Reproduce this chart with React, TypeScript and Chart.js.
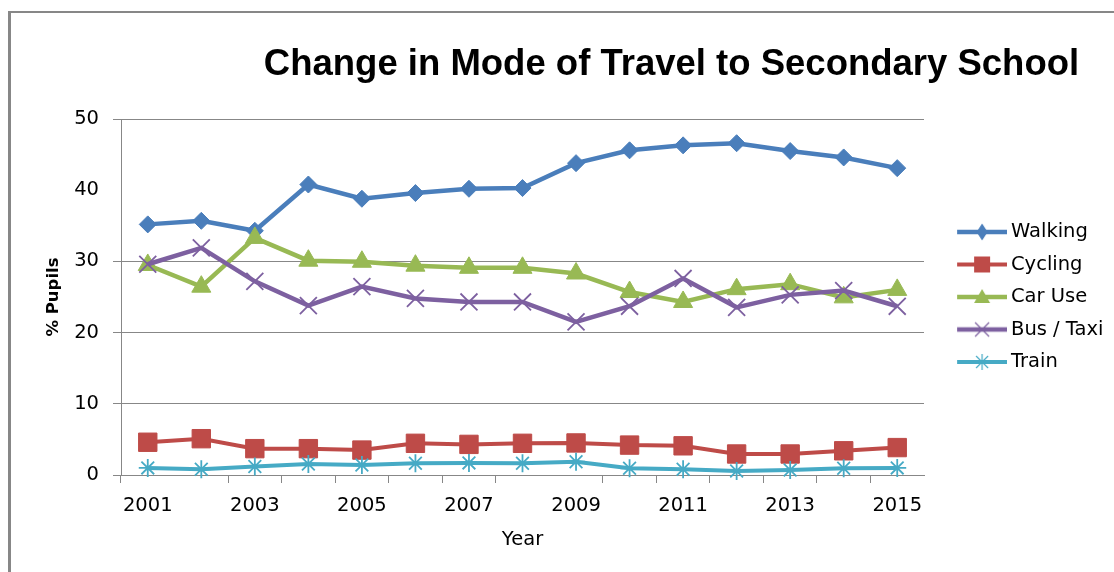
import React, { useEffect, useRef } from 'react';
import { Chart, registerables } from 'chart.js';

Chart.register(...registerables);

const TITLE = 'Change in Mode of Travel to Secondary School';
const X_TITLE = 'Year';
const Y_TITLE = '% Pupils';

const years = ['2001', '2002', '2003', '2004', '2005', '2006', '2007', '2008', '2009', '2010', '2011', '2012', '2013', '2014', '2015'];
const seriesNames = ['Walking', 'Cycling', 'Car Use', 'Bus / Taxi', 'Train'];

const walking = [35.2, 35.7, 34.3, 40.8, 38.8, 39.6, 40.2, 40.3, 43.8, 45.6, 46.3, 46.6, 45.5, 44.6, 43.1];
const cycling = [4.6, 5.1, 3.7, 3.7, 3.5, 4.45, 4.3, 4.45, 4.5, 4.2, 4.1, 2.95, 2.95, 3.4, 3.85];
const carUse = [29.5, 26.45, 33.3, 30.1, 29.95, 29.4, 29.1, 29.1, 28.3, 25.7, 24.3, 26.1, 26.8, 24.95, 26.0];
const busTaxi = [29.6, 31.9, 27.2, 23.8, 26.45, 24.8, 24.3, 24.3, 21.5, 23.7, 27.6, 23.55, 25.3, 25.9, 23.7];
const train = [1.0, 0.8, 1.2, 1.55, 1.4, 1.65, 1.7, 1.65, 1.87, 0.94, 0.8, 0.56, 0.7, 0.94, 1.0];

const yMin = 0;
const yMax = 50;
const yStep = 10;

const seriesValues = [walking, cycling, carUse, busTaxi, train];
const seriesColors = ['#4A7EBB', '#BE4B48', '#98B954', '#7D60A0', '#46AAC5'];
const markerStyles = ['rectRot', 'rect', 'triangle', 'crossRot', 'star'];
const markerRadii = [8.5, 13, 11, 12, 9];
const lineWidths = [4.5, 4, 4.5, 4.5, 4];

const GRID = '#878787';
const CLEAR = 'rgba(0,0,0,0)';
const FONT = '"DejaVu Sans", "Noto Sans", sans-serif';

function makeIcon(color: string, style: string, lw: number): HTMLCanvasElement {
  const c = document.createElement('canvas');
  c.width = 76;
  c.height = 20;
  const g = c.getContext('2d')!;
  const cy = 10;
  const cx = 51;
  g.strokeStyle = color;
  g.fillStyle = color;
  g.lineWidth = lw;
  g.beginPath();
  g.moveTo(26, cy);
  g.lineTo(76, cy);
  g.stroke();
  g.lineWidth = 1.2;
  g.beginPath();
  if (style === 'rectRot') {
    g.moveTo(cx, cy - 8.5);
    g.lineTo(cx + 5.5, cy);
    g.lineTo(cx, cy + 8.5);
    g.lineTo(cx - 5.5, cy);
    g.closePath();
    g.fill();
  } else if (style === 'rect') {
    g.rect(cx - 8, cy - 8, 16, 16);
    g.fill();
  } else if (style === 'triangle') {
    g.moveTo(cx, cy - 8);
    g.lineTo(cx + 8, cy + 6);
    g.lineTo(cx - 8, cy + 6);
    g.closePath();
    g.fill();
  } else if (style === 'crossRot') {
    g.moveTo(cx - 7, cy - 7);
    g.lineTo(cx + 7, cy + 7);
    g.moveTo(cx + 7, cy - 7);
    g.lineTo(cx - 7, cy + 7);
    g.stroke();
  } else {
    g.moveTo(cx, cy - 8);
    g.lineTo(cx, cy + 8);
    g.moveTo(cx - 6, cy - 6);
    g.lineTo(cx + 6, cy + 6);
    g.moveTo(cx + 6, cy - 6);
    g.lineTo(cx - 6, cy + 6);
    g.stroke();
  }
  return c;
}

const titlePlugin = {
  id: 'excelTitle',
  afterDraw(chart: any) {
    const ctx = chart.ctx;
    ctx.save();
    ctx.font = 'bold 36.5px "Liberation Sans", Arial, sans-serif';
    ctx.fillStyle = '#000';
    ctx.textAlign = 'center';
    ctx.textBaseline = 'alphabetic';
    ctx.fillText(TITLE, 671.5, 75);
    ctx.restore();
  },
};

const legendWidthPlugin = {
  id: 'legendWidth',
  beforeLayout(chart: any) {
    const lg = chart.legend;
    if (lg && !lg.__patched) {
      const orig = lg.fit;
      lg.fit = function (this: any) {
        orig.call(this);
        this.width = 190;
      };
      lg.__patched = true;
    }
  },
};

export default function App() {
  const ref = useRef<HTMLCanvasElement | null>(null);

  useEffect(() => {
    if (!ref.current) return;
    const icons = seriesNames.map((_, i) => makeIcon(seriesColors[i], markerStyles[i], lineWidths[i]));
    const datasets = seriesNames.map((name, i) => ({
      label: name,
      data: seriesValues[i],
      borderColor: seriesColors[i],
      backgroundColor: seriesColors[i],
      borderWidth: lineWidths[i],
      pointStyle: markerStyles[i],
      pointRadius: markerRadii[i],
      pointHoverRadius: markerRadii[i],
      pointBackgroundColor: seriesColors[i],
      pointBorderColor: seriesColors[i],
      pointBorderWidth: markerStyles[i] === 'crossRot' || markerStyles[i] === 'star' ? 1.8 : 1,
      tension: 0,
      fill: false,
      clip: false as any,
      order: seriesNames.length - i,
    }));

    const chart = new Chart(ref.current, {
      type: 'line',
      data: { labels: years, datasets },
      plugins: [titlePlugin, legendWidthPlugin],
      options: {
        responsive: false,
        animation: false,
        devicePixelRatio: 1,
        events: [],
        font: { family: FONT },
        color: '#000',
        layout: { padding: { left: 30, top: 119, right: 0, bottom: 0 } },
        scales: {
          x: {
            type: 'category',
            offset: true,
            grid: {
              display: true,
              drawOnChartArea: false,
              drawTicks: true,
              tickLength: 8,
              offset: true,
              lineWidth: 1,
              color: (c: any) => (c.type !== 'tick' || c.index === 1 || c.index === 8 ? CLEAR : GRID),
              tickColor: (c: any) => (c.type !== 'tick' || c.index === 1 || c.index === 8 ? CLEAR : GRID),
            },
            border: { display: true, color: GRID, width: 1 },
            ticks: {
              autoSkip: false,
              maxRotation: 0,
              minRotation: 0,
              padding: 11,
              color: '#000',
              font: { family: FONT, size: 19.5 },
              callback: (_v: any, i: number) => (i % 2 === 0 ? years[i] : ''),
            },
            title: {
              display: true,
              text: X_TITLE,
              color: '#000',
              font: { family: FONT, size: 19.5 },
              padding: { top: 0, bottom: 20 },
            },
            afterFit: (s: any) => {
              s.height = 97;
            },
          },
          y: {
            min: yMin,
            max: yMax,
            ticks: {
              stepSize: yStep,
              padding: 14,
              color: '#000',
              font: { family: FONT, size: 19.5 },
            },
            grid: {
              drawTicks: true,
              tickLength: 8,
              lineWidth: 1,
              color: (c: any) => (c.tick && c.tick.value === 40 ? CLEAR : GRID),
              tickColor: (c: any) => (c.tick && c.tick.value === 40 ? CLEAR : GRID),
            },
            border: { display: true, color: GRID, width: 1 },
            title: {
              display: true,
              text: Y_TITLE,
              color: '#000',
              font: { family: FONT, size: 16.5, weight: 'bold' },
              padding: { top: 14, bottom: 0 },
            },
            afterFit: (s: any) => {
              s.width = 91;
            },
          },
        },
        plugins: {
          title: { display: false },
          tooltip: { enabled: false },
          legend: {
            position: 'right',
            fullSize: false,
            labels: {
              usePointStyle: true,
              pointStyleWidth: 64.25,
              padding: 13,
              color: '#000',
              font: { family: FONT, size: 19.5 },
              generateLabels: (ch: any) => {
                const items = (Chart.defaults as any).plugins.legend.labels.generateLabels(ch);
                return items.map((it: any) => ({ ...it, pointStyle: icons[it.datasetIndex] }));
              },
              sort: (a: any, b: any) => a.datasetIndex - b.datasetIndex,
            },
          },
        },
      } as any,
    });
    return () => chart.destroy();
  }, []);

  return (
    <div style={{ position: 'absolute', left: 0, top: 0, width: 1114, height: 572, overflow: 'hidden', background: '#fff' }}>
      <div
        style={{
          position: 'absolute',
          left: 8,
          top: 11,
          width: 1300,
          height: 800,
          borderLeft: '3px solid #878787',
          borderTop: '2px solid #878787',
        }}
      />
      <canvas ref={ref} width={1114} height={572} style={{ position: 'absolute', left: 0, top: 0 }} />
    </div>
  );
}
